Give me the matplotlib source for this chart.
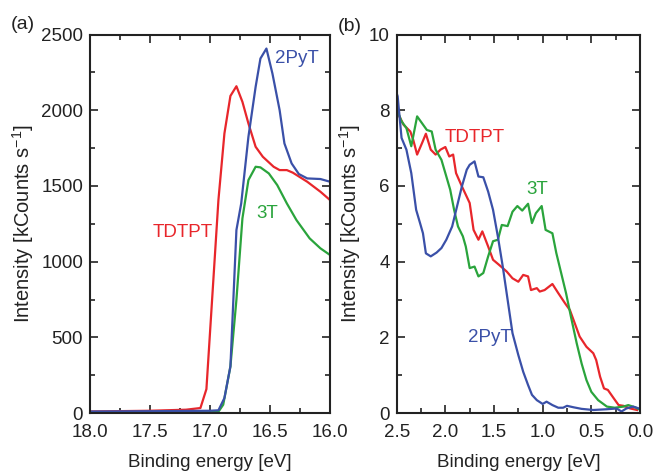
import matplotlib
matplotlib.use("Agg")
import matplotlib.pyplot as plt
from matplotlib.ticker import MultipleLocator

plt.rcParams["font.family"] = ["Liberation Sans", "DejaVu Sans"]
plt.rcParams["font.size"] = 13

RED = "#e8262b"
BLUE = "#3a50a8"
GREEN = "#2aa43c"

# panel (a): secondary electron cutoff
a_red_x = [18.0, 17.5, 17.2, 17.08, 17.03, 16.93, 16.88, 16.83, 16.78, 16.73, 16.68, 16.62,
           16.56, 16.47, 16.42, 16.36, 16.31, 16.19, 16.08, 16.0]
a_red_y = [10, 15, 22, 33, 158, 1407, 1847, 2095, 2159, 2056, 1913, 1759,
           1693, 1627, 1605, 1605, 1588, 1528, 1462, 1407]

a_blue_x = [18.0, 17.5, 17.0, 16.93, 16.88, 16.83, 16.78, 16.74, 16.68, 16.62, 16.58, 16.53,
            16.48, 16.42, 16.38, 16.32, 16.26, 16.19, 16.08, 16.0]
a_blue_y = [10, 12, 15, 18, 99, 308, 1209, 1385, 1825, 2155, 2342, 2408,
            2243, 2001, 1781, 1649, 1579, 1550, 1546, 1528]

a_green_x = [18.0, 17.5, 17.0, 16.93, 16.89, 16.83, 16.78, 16.73, 16.68, 16.62, 16.58, 16.51,
             16.44, 16.36, 16.28, 16.17, 16.08, 16.0]
a_green_y = [5, 5, 5, 8, 55, 308, 748, 1286, 1539, 1627, 1623, 1583,
             1506, 1385, 1275, 1154, 1088, 1044]

# panel (b): valence region
b_red_x = [2.5, 2.48, 2.43, 2.36, 2.33, 2.29, 2.24, 2.20, 2.15, 2.10, 2.05, 2.00, 1.96, 1.92,
           1.89, 1.83, 1.75, 1.71, 1.66, 1.62, 1.56, 1.51, 1.45, 1.37, 1.31, 1.25, 1.20, 1.15,
           1.12, 1.06, 1.03, 0.98, 0.90, 0.84, 0.77, 0.72, 0.67, 0.62, 0.55, 0.48, 0.45, 0.41,
           0.37, 0.33, 0.27, 0.22, 0.17, 0.10, 0.03]
b_red_y = [8.0, 7.88, 7.62, 7.44, 7.22, 6.83, 7.13, 7.38, 6.96, 6.83, 6.96, 7.03, 6.78, 6.83,
           6.34, 5.99, 5.55, 4.84, 4.58, 4.80, 4.40, 4.05, 3.92, 3.74, 3.56, 3.47, 3.65, 3.61,
           3.25, 3.30, 3.21, 3.25, 3.41, 3.17, 2.90, 2.72, 2.37, 2.02, 1.75, 1.58, 1.40, 0.96,
           0.65, 0.61, 0.39, 0.21, 0.19, 0.12, 0.08]

b_green_x = [2.5, 2.49, 2.45, 2.40, 2.35, 2.29, 2.24, 2.19, 2.14, 2.10, 2.04, 2.00, 1.95, 1.91,
             1.87, 1.82, 1.79, 1.75, 1.70, 1.66, 1.61, 1.56, 1.51, 1.46, 1.42, 1.36, 1.31, 1.26,
             1.21, 1.15, 1.11, 1.07, 1.01, 0.97, 0.90, 0.86, 0.81, 0.76, 0.71, 0.65, 0.60, 0.55,
             0.50, 0.43, 0.34, 0.26, 0.17, 0.12, 0.05, 0.01]
b_green_y = [8.0, 7.97, 7.71, 7.53, 7.05, 7.84, 7.66, 7.48, 7.44, 6.96, 6.69, 6.34, 5.90, 5.37,
             4.93, 4.67, 4.40, 3.83, 3.87, 3.61, 3.70, 4.14, 4.54, 4.58, 4.97, 4.94, 5.32, 5.47,
             5.35, 5.53, 5.02, 5.28, 5.47, 4.84, 4.75, 4.23, 3.70, 3.17, 2.55, 1.84, 1.31, 0.87,
             0.56, 0.34, 0.17, 0.14, 0.17, 0.21, 0.15, 0.10]

b_blue_x = [2.5, 2.49, 2.45, 2.40, 2.35, 2.30, 2.26, 2.23, 2.20, 2.15, 2.09, 2.04, 1.99, 1.93,
            1.88, 1.83, 1.78, 1.75, 1.70, 1.66, 1.61, 1.56, 1.51, 1.46, 1.41, 1.36, 1.31, 1.25,
            1.20, 1.15, 1.11, 1.06, 1.00, 0.96, 0.90, 0.84, 0.79, 0.75, 0.68, 0.60, 0.48, 0.34,
            0.24, 0.19, 0.14, 0.07, 0.01]
b_blue_y = [8.45, 8.37, 7.27, 6.96, 6.34, 5.37, 5.02, 4.75, 4.22, 4.14, 4.24, 4.36, 4.58, 4.93,
            5.46, 5.99, 6.43, 6.56, 6.65, 6.25, 6.23, 5.85, 5.37, 4.66, 3.87, 2.99, 2.11, 1.53,
            1.09, 0.74, 0.48, 0.34, 0.24, 0.30, 0.21, 0.14, 0.14, 0.19, 0.15, 0.11, 0.08, 0.10,
            0.12, 0.04, 0.12, 0.17, 0.12]


def style_axes(ax):
    ax.tick_params(which="both", direction="in", top=True, right=True, labelsize=13.5,
                   width=1.2, color="#222222", labelcolor="#222222")
    ax.tick_params(which="major", length=6)
    ax.tick_params(which="minor", length=3.5)
    ax.tick_params(axis="x", which="major", pad=8)
    ax.tick_params(axis="y", which="major", pad=5)
    for s in ax.spines.values():
        s.set_linewidth(1.5)
        s.set_color("#222222")


fig = plt.figure(figsize=(6.56, 4.73), dpi=100)
ax1 = fig.add_axes([0.1372, 0.1268, 0.3659, 0.800])
ax2 = fig.add_axes([0.6047, 0.1268, 0.3709, 0.800])

lw = 1.6
ylab = "Intensity [kCounts s$^{\\mathregular{-1}}$]"

ax1.plot(a_red_x, a_red_y, color=RED, lw=lw)
ax1.plot(a_green_x, a_green_y, color=GREEN, lw=lw)
ax1.plot(a_blue_x, a_blue_y, color=BLUE, lw=lw)
ax1.set_xlim(18.0, 16.0)
ax1.set_ylim(0, 2500)
ax1.xaxis.set_major_locator(MultipleLocator(0.5))
ax1.xaxis.set_minor_locator(MultipleLocator(0.25))
ax1.yaxis.set_major_locator(MultipleLocator(500))
ax1.yaxis.set_minor_locator(MultipleLocator(250))
ax1.xaxis.set_major_formatter(plt.FormatStrFormatter("%.1f"))
ax1.set_xlabel("Binding energy [eV]", color="#222222", fontsize=13.5, labelpad=9)
ax1.set_ylabel(ylab, color="#222222", fontsize=14.5, labelpad=4)
style_axes(ax1)
ax1.text(17.23, 1190, "TDTPT", color=RED, ha="center", va="center", fontsize=13.5)
ax1.text(16.525, 1320, "3T", color=GREEN, ha="center", va="center", fontsize=13.5)
ax1.text(16.28, 2345, "2PyT", color=BLUE, ha="center", va="center", fontsize=13.5)

ax2.plot(b_red_x, b_red_y, color=RED, lw=lw)
ax2.plot(b_green_x, b_green_y, color=GREEN, lw=lw)
ax2.plot(b_blue_x, b_blue_y, color=BLUE, lw=lw)
ax2.set_xlim(2.5, 0.0)
ax2.set_ylim(0, 10)
ax2.xaxis.set_major_locator(MultipleLocator(0.5))
ax2.xaxis.set_minor_locator(MultipleLocator(0.25))
ax2.yaxis.set_major_locator(MultipleLocator(2))
ax2.yaxis.set_minor_locator(MultipleLocator(1))
ax2.xaxis.set_major_formatter(plt.FormatStrFormatter("%.1f"))
ax2.set_xlabel("Binding energy [eV]", color="#222222", fontsize=13.5, labelpad=9)
ax2.set_ylabel(ylab, color="#222222", fontsize=14.5, labelpad=4)
style_axes(ax2)
ax2.text(1.695, 7.29, "TDTPT", color=RED, ha="center", va="center", fontsize=13.5)
ax2.text(1.06, 5.92, "3T", color=GREEN, ha="center", va="center", fontsize=13.5)
ax2.text(1.54, 2.0, "2PyT", color=BLUE, ha="center", va="center", fontsize=13.5)

fig.text(0.016, 0.948, "(a)", fontsize=14, color="#222222", ha="left", va="center")
fig.text(0.515, 0.945, "(b)", fontsize=14, color="#222222", ha="left", va="center")

fig.savefig("out.png", dpi=100)
plt.close(fig)
